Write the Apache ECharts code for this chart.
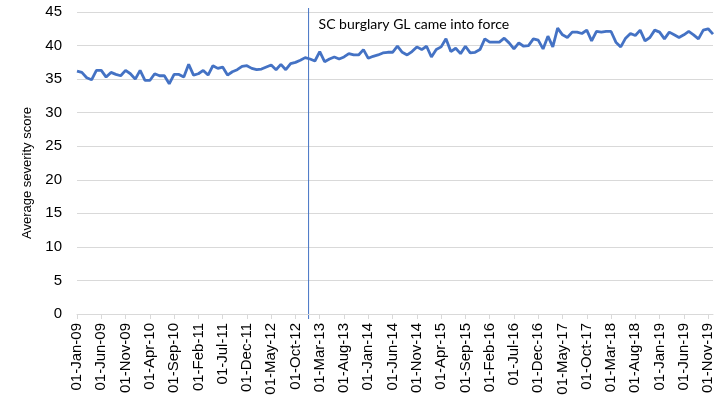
<!DOCTYPE html>
<html>
<head>
<meta charset="utf-8">
<script src="https://cdn.jsdelivr.net/npm/echarts@6/dist/echarts.min.js"></script>
<style>
  html, body { margin: 0; padding: 0; background: #fff; }
  #chart { width: 725px; height: 403px; }
</style>
</head>
<body>
<div id="chart"></div>
<script>
// monthly categories, Jan 2009 .. Dec 2019
const monthNames = ["Jan", "Feb", "Mar", "Apr", "May", "Jun", "Jul", "Aug", "Sep", "Oct", "Nov", "Dec"];
const startYear = 2009;
const monthCount = 132;
const categories = [];
for (let i = 0; i < monthCount; i++) {
  const yy = String((startYear + Math.floor(i / 12)) % 100).padStart(2, "0");
  categories.push("01-" + monthNames[i % 12] + "-" + yy);
}

// average severity score per month
const severity = [
  36.2, 36.0, 35.2, 34.9, 36.3, 36.3, 35.3, 36.0, 35.7, 35.5, 36.3, 35.8,
  35.0, 36.3, 34.8, 34.8, 35.8, 35.5, 35.5, 34.3, 35.7, 35.7, 35.3, 37.2,
  35.6, 35.8, 36.3, 35.6, 37.0, 36.6, 36.8, 35.6, 36.1, 36.4, 36.9, 37.0,
  36.6, 36.4, 36.5, 36.8, 37.1, 36.4, 37.2, 36.4, 37.3, 37.5, 37.8, 38.2,
  38.0, 37.7, 39.1, 37.6, 38.0, 38.3, 38.0, 38.3, 38.8, 38.6, 38.6, 39.4,
  38.1, 38.4, 38.6, 38.9, 39.0, 39.0, 39.9, 39.0, 38.6, 39.1, 39.8, 39.4,
  39.9, 38.3, 39.4, 39.8, 41.0, 39.1, 39.6, 38.8, 39.9, 38.9, 39.0, 39.4,
  41.0, 40.5, 40.5, 40.5, 41.1, 40.4, 39.5, 40.4, 39.9, 40.0, 41.0, 40.8,
  39.5, 41.4, 39.8, 42.6, 41.6, 41.2, 42.0, 42.0, 41.8, 42.3, 40.7, 42.1,
  42.0, 42.1, 42.1, 40.5, 39.8, 41.1, 41.8, 41.5, 42.3, 40.7, 41.2, 42.3,
  42.0, 41.0, 42.0, 41.6, 41.2, 41.6, 42.1, 41.6, 41.0, 42.3, 42.5, 41.7
];

// guideline start (between Dec-12 and Jan-13)
const guidelineIndex = 47.7;
const guidelineText = "SC burglary GL came into force";

const axisFont = "'Liberation Sans', Arial, sans-serif";

const chart = echarts.init(document.getElementById("chart"));
const option = {
  animation: false,
  grid: { left: 77, right: 12, top: 12, bottom: 89 },
  xAxis: {
    type: "category",
    data: categories,
    boundaryGap: false,
    axisLine: { lineStyle: { color: "#d9d9d9" } },
    axisTick: { interval: 4, length: 5, lineStyle: { color: "#d9d9d9" } },
    axisLabel: {
      interval: 4,
      rotate: 90,
      margin: 9,
      fontFamily: axisFont,
      fontSize: 15,
      color: "#000"
    }
  },
  yAxis: {
    type: "value",
    min: 0,
    max: 45,
    interval: 5,
    name: "Average severity score",
    nameLocation: "middle",
    nameGap: 43,
    nameTextStyle: {
      fontFamily: axisFont,
      fontSize: 13,
      color: "#000",
      padding: [0, 20, 0, 0]
    },
    axisLine: { show: false },
    axisTick: { show: false },
    axisLabel: {
      margin: 15,
      fontFamily: axisFont,
      fontSize: 15,
      color: "#000"
    },
    splitLine: { lineStyle: { color: "#d9d9d9", width: 1 } }
  },
  series: [
    {
      type: "line",
      data: severity,
      symbol: "none",
      lineStyle: { color: "#4472C4", width: 2.8 }
    }
  ]
};
chart.setOption(option);

// vertical guideline marker, placed through the axis scale
const x0 = chart.convertToPixel({ xAxisIndex: 0 }, categories[Math.floor(guidelineIndex)]);
const x1 = chart.convertToPixel({ xAxisIndex: 0 }, categories[Math.floor(guidelineIndex) + 1]);
const gx = x0 + (x1 - x0) * (guidelineIndex - Math.floor(guidelineIndex));
const yTop = chart.convertToPixel({ yAxisIndex: 0 }, 45);
const yBottom = chart.convertToPixel({ yAxisIndex: 0 }, 0);
chart.setOption({
  graphic: [
    {
      type: "line",
      shape: { x1: gx, y1: yTop - 4, x2: gx, y2: yBottom + 5 },
      style: { stroke: "#4472C4", lineWidth: 1 },
      silent: true
    },
    {
      type: "text",
      x: gx + 10,
      y: 17,
      style: {
        text: guidelineText,
        fontFamily: "Lato, 'Open Sans', sans-serif",
        fontSize: 14,
        fill: "#000"
      }
    }
  ]
});
</script>
</body>
</html>
